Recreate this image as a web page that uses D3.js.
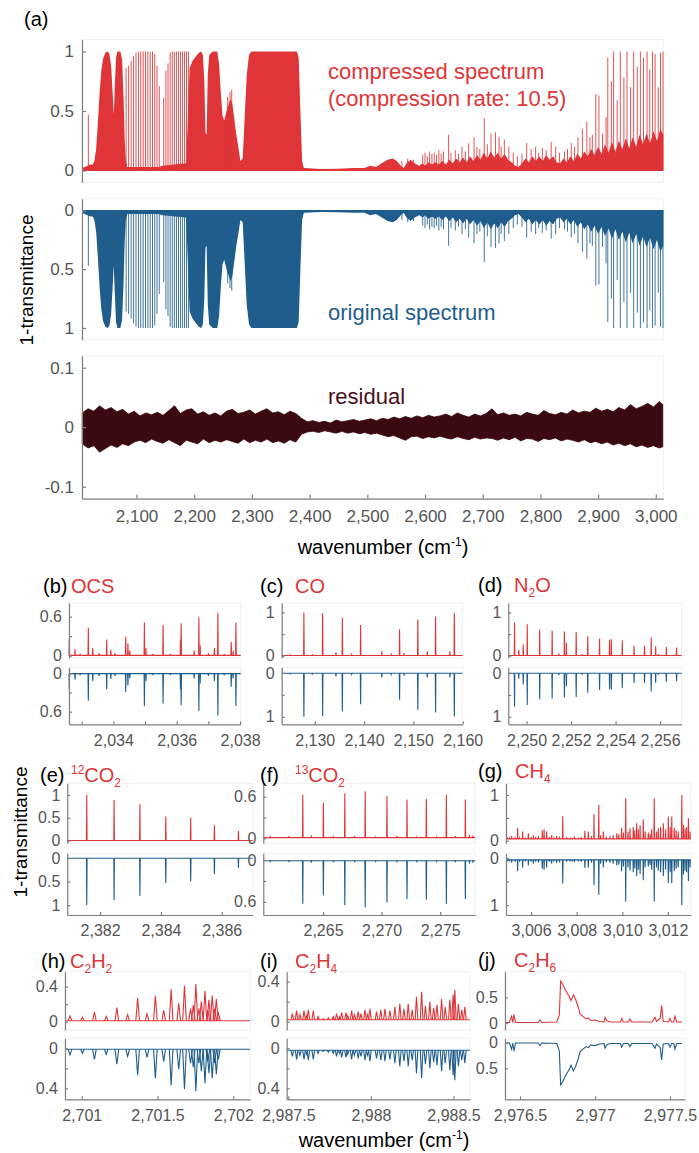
<!DOCTYPE html>
<html>
<head>
<meta charset="utf-8">
<script src="https://cdn.jsdelivr.net/npm/d3@7"></script>
<style>
  body { margin: 0; background: #fff; }
  svg { font-family: "Liberation Sans", Arial, Helvetica, sans-serif; }
</style>
</head>
<body>
<svg id="fig" width="699" height="1153"></svg>
<script>
// ---------- data ----------

// panel (a): top of the saturated / blended absorption, [cm-1, 1-T]
const bandEnvelope = [
  [2005.5,0.02],[2010,0.03],[2015,0.04],[2020,0.05],[2024,0.05],[2027,0.08],[2030,0.18],[2033,0.4],
  [2036,0.65],[2039,0.84],[2042,0.94],[2046,0.99],[2050,1.0],[2053,0.98],[2056,0.88],[2058.5,0.66],
  [2060.5,0.47],[2062.5,0.72],[2064.5,0.95],[2067,1.0],[2072,1.0],[2075,0.93],[2077.5,0.62],[2079.5,0.26],
  [2081.5,0.08],[2084,0.03],[2138,0.03],[2145,0.04],[2186,0.06],[2189,0.45],[2192,0.86],[2197,0.92],
  [2203,0.96],[2208,0.99],[2212,1.0],[2215,0.97],[2217.5,0.75],[2219.5,0.32],[2221.5,0.3],[2223.5,0.8],
  [2226,0.97],[2232,1.0],[2240,1.0],[2243,0.9],[2246,0.66],[2249,0.46],[2252,0.42],[2256,0.5],
  [2260,0.56],[2263,0.6],[2266,0.56],[2269,0.45],[2273,0.3],[2277,0.18],[2280,0.08],[2284,0.1],
  [2287,0.4],[2291,0.8],[2295,0.97],[2299,1.0],[2378,1.0],[2381,0.95],[2384,0.5],[2387,0.08],
  [2390,0.02],[2420,0.012],[2450,0.015],[2475,0.02],[2495,0.02],[2505,0.04],[2515,0.03],[2525,0.06],
  [2535,0.09],[2544,0.1],[2551,0.08],[2558,0.04],[2563,0.02],[2568,0.06],[2575,0.09],[2582,0.06],
  [2590,0.04],[2596,0.06],[2600,0.04],[2606,0.07],[2612,0.05],[2618,0.07],[2624,0.05],[2630,0.08],
  [2636,0.05],[2642,0.09],[2648,0.06],[2654,0.1],[2660,0.07],[2666,0.11],[2672,0.07],[2678,0.12],
  [2684,0.08],[2690,0.13],[2696,0.09],[2702,0.15],[2708,0.1],[2714,0.16],[2720,0.11],[2726,0.15],
  [2732,0.1],[2738,0.14],[2744,0.09],[2750,0.07],[2756,0.04],[2762,0.03],[2768,0.06],[2774,0.1],
  [2780,0.07],[2786,0.12],[2792,0.08],[2798,0.12],[2804,0.08],[2810,0.13],[2816,0.09],[2822,0.12],
  [2828,0.07],[2834,0.06],[2840,0.1],[2846,0.07],[2852,0.12],[2858,0.08],[2864,0.14],[2870,0.1],
  [2876,0.16],[2882,0.12],[2888,0.18],[2894,0.13],[2900,0.2],[2906,0.14],[2912,0.22],[2918,0.15],
  [2924,0.24],[2930,0.16],[2936,0.25],[2942,0.18],[2948,0.27],[2954,0.19],[2960,0.28],[2966,0.2],
  [2972,0.3],[2978,0.22],[2984,0.31],[2990,0.23],[2996,0.33],[3002,0.25],[3008,0.35],[3013,0.3]
];

// panel (a): resolved lines standing above the envelope, [cm-1, 1-T]
const bandLines = [
  [2016.5,0.47],
  [2082.0,0.86],[2086.3,0.88],[2090.7,0.92],[2094.9,0.96],[2099.1,0.99],[2103.3,1],[2107.4,1],[2111.5,1],
  [2115.6,1],[2119.7,1],[2123.7,1],[2127.7,1],[2131.6,0.98],[2135.5,0.88],[2139.4,0.71],
  [2147.1,0.61],[2150.9,0.84],[2154.6,0.9],[2158.3,0.99],[2162.0,1],[2165.6,1],[2169.2,1],[2172.8,1],
  [2176.3,1],[2179.8,1],[2183.2,1],[2186.6,1],[2190.0,1],
  [2258,0.62],[2262,0.66],[2265,0.68],
  [2560,0.08],[2570,0.1],[2580,0.09],
  [2596,0.13],[2600,0.15],[2604,0.12],[2608,0.16],[2612,0.14],[2616,0.15],[2620,0.13],[2624,0.17],
  [2628,0.14],[2632,0.16],[2640.9,0.3],[2645,0.15],[2652.5,0.17],[2658,0.14],[2664.1,0.2],[2670,0.16],
  [2675.7,0.23],[2685.0,0.28],[2690,0.2],[2695,0.18],[2702.7,0.44],[2708,0.22],[2714.4,0.31],[2722.1,0.32],
  [2728.3,0.28],[2732,0.2],[2737.5,0.26],[2745.3,0.2],[2753,0.15],[2760,0.12],[2768,0.14],[2776.2,0.23],
  [2784,0.18],[2791.7,0.2],[2797,0.15],[2803.3,0.19],[2810,0.17],[2818.7,0.24],[2826.5,0.2],[2833,0.15],
  [2841.9,0.16],[2847,0.18],[2853.5,0.23],[2859,0.2],[2865.1,0.28],[2872.8,0.35],[2880.5,0.41],[2885.9,0.28],
  [2890,0.3],[2896.0,0.64],[2901.4,0.63],[2907.6,0.31],[2913.8,0.45],[2916.8,0.95],[2923.0,0.75],[2926.9,1],
  [2933.1,0.59],[2938.5,1],[2944.7,0.78],[2950.1,1],[2956.3,0.7],[2961.7,1],[2967.9,0.87],[2973.3,1],
  [2978.7,0.95],[2984.9,1],[2989.5,0.85],[2994.2,1],[2998.8,0.98],[3004.2,0.7],[3008.1,0.99],[3012.5,1]
];

// panel (a): residual band, [cm-1, upper, lower]
const residualBand = [
  [2006,.024,-.028],[2016,.031,-.035],[2026,.027,-.031],[2036,.036,-.042],[2046,.029,-.036],[2056,.033,-.030],
  [2066,.026,-.034],[2076,.030,-.028],[2086,.022,-.031],[2096,.027,-.025],[2106,.019,-.022],[2116,.024,-.026],
  [2126,.021,-.020],[2136,.025,-.024],[2146,.020,-.027],[2156,.028,-.021],[2166,.036,-.026],[2176,.023,-.031],
  [2186,.029,-.022],[2196,.031,-.025],[2206,.022,-.028],[2216,.026,-.020],[2226,.020,-.026],[2236,.024,-.022],
  [2246,.019,-.025],[2256,.027,-.021],[2266,.030,-.024],[2276,.023,-.027],[2286,.025,-.020],[2296,.029,-.026],
  [2306,.022,-.022],[2316,.027,-.025],[2326,.031,-.020],[2336,.024,-.026],[2346,.026,-.023],[2356,.021,-.027],
  [2366,.027,-.021],[2376,.023,-.025],[2386,.015,-.012],[2396,.009,-.008],[2406,.011,-.007],[2416,.008,-.009],
  [2426,.010,-.006],[2436,.007,-.008],[2446,.012,-.010],[2456,.009,-.007],[2466,.011,-.010],[2476,.013,-.008],
  [2486,.010,-.011],[2496,.012,-.009],[2506,.014,-.012],[2516,.011,-.010],[2526,.015,-.013],[2536,.013,-.016],
  [2546,.017,-.014],[2556,.014,-.018],[2566,.018,-.022],[2576,.015,-.016],[2586,.019,-.015],[2596,.016,-.019],
  [2606,.020,-.016],[2616,.017,-.018],[2626,.019,-.015],[2636,.022,-.018],[2646,.018,-.020],[2656,.024,-.016],
  [2666,.020,-.019],[2676,.017,-.021],[2686,.022,-.017],[2696,.019,-.020],[2706,.023,-.018],[2716,.031,-.019],
  [2726,.021,-.022],[2736,.024,-.018],[2746,.020,-.021],[2756,.022,-.017],[2766,.019,-.023],[2776,.025,-.019],
  [2786,.022,-.020],[2796,.020,-.024],[2806,.028,-.019],[2816,.023,-.021],[2826,.021,-.018],[2836,.025,-.023],
  [2846,.022,-.020],[2856,.029,-.022],[2866,.024,-.025],[2876,.027,-.021],[2886,.025,-.026],[2896,.032,-.024],
  [2906,.027,-.028],[2916,.030,-.025],[2926,.026,-.030],[2936,.033,-.027],[2946,.029,-.031],[2956,.038,-.028],
  [2966,.031,-.033],[2976,.035,-.030],[2986,.040,-.034],[2996,.034,-.031],[3006,.043,-.035],[3012,.038,-.033]
];

const bigYTicks = [0, 0.5, 1];
const residualTicks = [-0.1, 0, 0.1];
const bigXTicks = [2100, 2200, 2300, 2400, 2500, 2600, 2700, 2800, 2900, 3000];

// zoomed panels: line peaks [cm-1, 1-T]
const ocsPeaks = [
  [2032.61,0.26],[2032.79,0.10],[2032.95,0.03],[2033.21,0.43],[2033.35,0.12],[2033.55,0.04],[2033.79,0.25],
  [2033.92,0.09],[2034.05,0.04],[2034.39,0.29],[2034.46,0.19],[2034.52,0.08],[2034.98,0.51],[2035.03,0.12],
  [2035.25,0.03],[2035.57,0.47],[2035.8,0.03],[2036.12,0.25],[2036.14,0.50],[2036.55,0.08],[2036.70,0.59],
  [2036.74,0.16],[2037.0,0.04],[2037.19,0.12],[2037.30,0.66],[2037.50,0.03],[2037.72,0.21],[2037.78,0.08],[2037.87,0.51]
];
const coPeaks = [
  [2125.0,0.02],[2127.8,1.0],[2129.5,0.04],[2131.6,0.98],[2134.3,0.08],[2135.6,0.88],[2137.5,0.03],
  [2139.3,0.71],[2143.6,0.1],[2145.5,0.03],[2147.2,0.61],[2148.1,0.06],[2150.9,0.84],[2152.8,0.1],
  [2154.5,0.9],[2157.4,0.1],[2158.3,0.99]
];
const n2oPeaks = [
  [2249.46,0.77],[2249.65,0.13],[2249.85,0.26],[2250.03,0.73],[2250.59,0.60],[2251.15,0.58],[2251.45,0.05],
  [2251.70,0.56],[2251.79,0.30],[2252.23,0.55],[2252.5,0.04],[2252.75,0.45],[2253.28,0.39],[2253.73,0.37],
  [2253.81,0.38],[2254.30,0.35],[2254.83,0.23],[2255.30,0.23],[2255.60,0.42],[2255.80,0.22],[2255.92,0.04],
  [2256.28,0.20],[2256.74,0.19]
];
const co2_12Peaks = [
  [2381.56,1.0],[2382.46,0.89],[2383.31,0.80],[2384.16,0.53],[2384.98,0.50],[2385.76,0.34],[2386.55,0.21]
];
const co2_13Peaks = [
  [2260.5,0.03],[2262.1,0.03],[2263.27,0.63],[2264.0,0.04],[2265.03,0.51],[2265.9,0.03],[2266.86,0.65],
  [2267.7,0.03],[2268.6,0.68],[2269.5,0.02],[2270.46,0.61],[2271.3,0.03],[2272.17,0.56],[2273.0,0.02],
  [2273.82,0.57],[2274.7,0.02],[2275.53,0.63],[2276.3,0.03],[2277.15,0.56],[2277.5,0.05],[2277.8,0.04]
];
const ch4Peaks = [
  [3004.96,0.07],[3005.05,0.06],[3005.15,0.1],[3005.3,0.08],[3005.41,0.28],[3005.5,0.06],[3005.63,0.2],
  [3005.75,0.07],[3005.88,0.16],[3006.0,0.08],[3006.1,0.12],[3006.2,0.06],[3006.32,0.1],[3006.49,0.23],
  [3006.57,0.25],[3006.68,0.2],[3006.8,0.08],[3006.9,0.12],[3007.0,0.06],[3007.12,0.1],[3007.25,0.09],
  [3007.39,0.54],[3007.56,0.08],[3007.71,0.07],[3007.8,0.07],[3007.9,0.09],[3008.07,0.07],[3008.2,0.08],
  [3008.36,0.21],[3008.51,0.2],[3008.65,0.1],[3008.76,0.58],[3008.97,0.78],[3009.05,0.12],[3009.17,0.2],
  [3009.3,0.09],[3009.46,0.1],[3009.6,0.12],[3009.76,0.16],[3009.85,0.14],[3009.97,0.28],[3010.05,0.18],
  [3010.15,0.93],[3010.25,0.2],[3010.34,0.27],[3010.48,0.3],[3010.55,0.22],[3010.63,0.38],[3010.7,0.25],
  [3010.78,0.34],[3010.92,0.47],[3011.0,0.2],[3011.14,0.18],[3011.22,0.15],[3011.29,0.25],[3011.4,0.93],
  [3011.5,0.2],[3011.58,0.27],[3011.68,0.3],[3011.8,0.38],[3011.9,0.25],[3012.02,0.53],[3012.1,0.3],
  [3012.17,0.53],[3012.28,0.28],[3012.36,0.23],[3012.45,0.2],[3012.61,1.0],[3012.68,0.35],[3012.75,0.27],
  [3012.82,0.3],[3012.9,0.49],[3012.97,0.2]
];
const c2h2Peaks = [
  [2700.923,0.065],[2701.005,0.05],[2701.084,0.11],[2701.162,0.06],[2701.232,0.16],[2701.303,0.08],
  [2701.369,0.27],[2701.431,0.09],[2701.486,0.30],[2701.541,0.13],[2701.59,0.37],[2701.64,0.21],
  [2701.678,0.41],[2701.718,0.15],[2701.736,0.19],[2701.753,0.43],[2701.773,0.15],[2701.789,0.23],
  [2701.813,0.35],[2701.832,0.13],[2701.839,0.25],[2701.861,0.30],[2701.877,0.15],[2701.888,0.26],[2701.901,0.11]
];
const c2h4Peaks = [
  [2987.524,0.08],[2987.55,0.11],[2987.57,0.07],[2987.595,0.11],[2987.61,0.06],[2987.621,0.12],[2987.651,0.11],
  [2987.68,0.05],[2987.711,0.03],[2987.742,0.04],[2987.772,0.05],[2987.792,0.08],[2987.81,0.05],[2987.823,0.09],
  [2987.849,0.09],[2987.86,0.06],[2987.883,0.11],[2987.9,0.07],[2987.923,0.1],[2987.94,0.08],[2987.964,0.12],
  [2987.98,0.07],[2987.994,0.13],[2988.034,0.1],[2988.06,0.12],[2988.085,0.13],[2988.115,0.11],[2988.145,0.15],
  [2988.175,0.18],[2988.2,0.13],[2988.226,0.18],[2988.25,0.12],[2988.276,0.25],[2988.307,0.3],[2988.33,0.16],
  [2988.357,0.2],[2988.38,0.14],[2988.4,0.17],[2988.428,0.23],[2988.45,0.15],[2988.478,0.22],[2988.498,0.27],
  [2988.508,0.32],[2988.53,0.18],[2988.55,0.12],[2988.569,0.15]
];
// C2H6 band is broad, so it is kept as the traced curve itself
const c2h6Trace = [
  [2976.40,0.01],[2976.43,0.01],[2976.444,0.13],[2976.452,0.01],[2976.46,0.17],[2976.47,0.01],[2976.62,0.01],
  [2976.633,0.06],[2976.645,0.01],[2976.745,0.02],[2976.762,0.16],[2976.771,0.82],[2976.785,0.76],[2976.80,0.66],
  [2976.827,0.53],[2976.84,0.44],[2976.856,0.55],[2976.87,0.47],[2976.889,0.31],[2976.90,0.18],[2976.92,0.13],
  [2976.94,0.08],[2976.955,0.1],[2976.97,0.05],[2977.0,0.06],[2977.03,0.03],[2977.06,0.02],[2977.067,0.11],
  [2977.08,0.04],[2977.10,0.02],[2977.17,0.02],[2977.178,0.09],[2977.19,0.02],[2977.22,0.02],[2977.233,0.08],
  [2977.245,0.02],[2977.38,0.02],[2977.40,0.11],[2977.41,0.03],[2977.435,0.1],[2977.444,0.34],[2977.455,0.03],
  [2977.49,0.02],[2977.50,0.09],[2977.51,0.02],[2977.525,0.02],[2977.533,0.13],[2977.545,0.02],[2977.58,0.02]
];

// ---------- drawing ----------
const svg = d3.select('#fig');
const red = '#df3538', blue = '#1f5d8c', maroon = '#3b0912';
const axisGray = '#808080', tickGray = '#555555';

function styleAxis(g, fs) {
  g.attr('font-family', null).attr('font-size', fs);
  g.select('.domain').attr('stroke', axisGray).attr('stroke-width', 1.2);
  g.selectAll('.tick line').attr('stroke', axisGray).attr('stroke-width', 1.2);
  g.selectAll('.tick text').attr('fill', tickGray);
}

function faintBox(x0, x1, y0, y1) {
  svg.append('rect')
    .attr('x', x0).attr('y', Math.min(y0, y1))
    .attr('width', x1 - x0).attr('height', Math.abs(y1 - y0))
    .attr('fill', 'none').attr('stroke', '#efefef');
}

// ---- panel (a) ----
const xBig = d3.scaleLinear().domain([2005.5, 3013]).range([82, 663.3]);
const yComp = d3.scaleLinear().domain([-0.1, 1.1]).range([182.4, 39.6]);
const yOrig = d3.scaleLinear().domain([-0.1, 1.1]).range([198.75, 339.75]);
const yRes = d3.scaleLinear().domain([-0.12, 0.12]).range([498.6, 355.8]);

faintBox(82, 663.3, 39.6, 182.4);
faintBox(82, 663.3, 198.75, 339.75);
faintBox(82, 663.3, 355.8, 498.6);

function drawSpectrum(y, color) {
  const g = svg.append('g');
  g.append('path')
    .datum(bandEnvelope)
    .attr('d', d3.area().x(d => xBig(d[0])).y0(y(0)).y1(d => y(d[1])))
    .attr('fill', color);
  g.append('line')
    .attr('x1', xBig(2005.5)).attr('x2', xBig(3013))
    .attr('y1', y(0)).attr('y2', y(0))
    .attr('stroke', color).attr('stroke-width', 1.2);
  g.selectAll('line.ln').data(bandLines).join('line')
    .attr('class', 'ln')
    .attr('x1', d => xBig(d[0])).attr('x2', d => xBig(d[0]))
    .attr('y1', y(0)).attr('y2', d => y(d[1]))
    .attr('stroke', color).attr('stroke-width', 0.85);
}
drawSpectrum(yComp, red);
drawSpectrum(yOrig, blue);

svg.append('path')
  .datum(residualBand)
  .attr('d', d3.area().x(d => xBig(d[0])).y0(d => yRes(d[2])).y1(d => yRes(d[1])))
  .attr('fill', maroon).attr('stroke', maroon).attr('stroke-width', 0.8);

const fmtY = d => String(d);
[[yComp, bigYTicks], [yOrig, bigYTicks], [yRes, residualTicks]].forEach(([y, t]) => {
  const g = svg.append('g').attr('transform', 'translate(82,0)')
    .call(d3.axisLeft(y).tickValues(t).tickFormat(fmtY).tickSizeInner(-4).tickSizeOuter(0).tickPadding(8));
  styleAxis(g, 17);
});
const gxBig = svg.append('g').attr('transform', `translate(0,${yRes.range()[0]})`)
  .call(d3.axisBottom(xBig).tickValues(bigXTicks).tickFormat(d3.format(','))
    .tickSizeInner(-4).tickSizeOuter(0).tickPadding(11));
styleAxis(gxBig, 17);

// panel (a) texts
svg.append('text').attr('x', 24).attr('y', 26).attr('font-size', 20).text('(a)');
svg.append('text').attr('x', 328).attr('y', 79).attr('font-size', 22).attr('fill', red).text('compressed spectrum');
svg.append('text').attr('x', 328).attr('y', 106).attr('font-size', 22).attr('fill', red).text('(compression rate: 10.5)');
svg.append('text').attr('x', 328).attr('y', 320).attr('font-size', 22).attr('fill', blue).text('original spectrum');
svg.append('text').attr('x', 328).attr('y', 404).attr('font-size', 22).attr('fill', '#4a1020').text('residual');

function yLabel(cx, cy) {
  svg.append('text').attr('transform', `translate(${cx},${cy}) rotate(-90)`)
    .attr('text-anchor', 'middle').attr('dy', '0.35em').attr('font-size', 19)
    .text('1-transmittance');
}
function xLabel(cx, by) {
  const t = svg.append('text').attr('x', cx).attr('y', by).attr('text-anchor', 'middle').attr('font-size', 20);
  t.append('tspan').text('wavenumber (cm');
  t.append('tspan').attr('font-size', 12).attr('dy', -8).text('-1');
  t.append('tspan').attr('dy', 8).text(')');
}
yLabel(26, 280);
xLabel(383, 554);

// ---- zoomed panels ----
const rows = [
  { top: [603, 658], low: [667.3, 724.3] },
  { top: [783.3, 843.3], low: [853.3, 915] },
  { top: [971.7, 1030], low: [1038.3, 1099.3] }
];

const panels = [
  { tag: '(b)', tagX: 43, gasX: 71, titleY: 593, gas: [['OCS']], row: 0,
    xRange: [69, 240.7], xDomain: [2032.6, 2038.02], xTicks: [2033, 2034, 2035, 2036, 2037, 2038], xLabels: [2034, 2036, 2038],
    topDomain: [-0.035, 0.81], lowDomain: [-0.094, 0.797], yTicks: [0, 0.3, 0.6], yLabels: [0, 0.6],
    peaks: ocsPeaks, hw: 0.01, base: 0.005 },
  { tag: '(c)', tagX: 260, gasX: 295, titleY: 593, gas: [['CO']], row: 0,
    xRange: [281.7, 462.7], xDomain: [2123.3, 2160], xTicks: [2130, 2140, 2150, 2160], xLabels: [2130, 2140, 2150, 2160],
    topDomain: [-0.053, 1.22], lowDomain: [-0.13, 1.17], yTicks: [0, 0.5, 1], yLabels: [0, 1],
    peaks: coPeaks, hw: 0.06, base: 0.005 },
  { tag: '(d)', tagX: 478, gasX: 514, titleY: 592, gas: [['N'], ['2', 'sub'], ['O']], row: 0,
    xRange: [508.3, 681.7], xDomain: [2249.18, 2256.97], xTicks: [2250, 2252, 2254, 2256], xLabels: [2250, 2252, 2254, 2256],
    topDomain: [-0.053, 1.22], lowDomain: [-0.13, 1.17], yTicks: [0, 0.5, 1], yLabels: [0, 1],
    peaks: n2oPeaks, hw: 0.012, base: 0.005 },
  { tag: '(e)', tagX: 40, gasX: 71, titleY: 782, gas: [['12', 'sup'], ['CO'], ['2', 'sub']], row: 1,
    xRange: [67.3, 252.7], xDomain: [2380.92, 2387.02], xTicks: [2382, 2384, 2386], xLabels: [2382, 2384, 2386],
    topDomain: [-0.057, 1.256], lowDomain: [-0.1, 1.21], yTicks: [0, 0.5, 1], yLabels: [0, 0.5, 1],
    peaks: co2_12Peaks, hw: 0.01, base: 0.005 },
  { tag: '(f)', tagX: 260, gasX: 295, titleY: 782, gas: [['13', 'sup'], ['CO'], ['2', 'sub']], row: 1,
    xRange: [263.3, 475.3], xDomain: [2259.9, 2278.0], xTicks: [2265, 2270, 2275], xLabels: [2265, 2270, 2275],
    topDomain: [-0.072, 0.794], lowDomain: [-0.096, 0.79], yTicks: [0, 0.3, 0.6], yLabels: [0, 0.6],
    peaks: co2_13Peaks, hw: 0.025, base: 0.01 },
  { tag: '(g)', tagX: 478, gasX: 515, titleY: 778, gas: [['CH'], ['4', 'sub']], row: 1,
    xRange: [506, 690.7], xDomain: [3004.9, 3013.0], xTicks: [3006, 3008, 3010, 3012], xLabels: [3006, 3008, 3010, 3012],
    topDomain: [-0.057, 1.256], lowDomain: [-0.1, 1.21], yTicks: [0, 0.5, 1], yLabels: [0, 1],
    peaks: ch4Peaks, hw: 0.012, base: 0.04 },
  { tag: '(h)', tagX: 41, gasX: 70, titleY: 968, gas: [['C'], ['2', 'sub'], ['H'], ['2', 'sub']], row: 2,
    xRange: [65, 250], xDomain: [2700.89, 2702.11], xTicks: [2701, 2701.5, 2702], xLabels: [2701, 2701.5, 2702],
    topDomain: [-0.095, 0.571], lowDomain: [-0.1, 0.51], yTicks: [0, 0.2, 0.4], yLabels: [0, 0.4],
    peaks: c2h2Peaks, hw: 0.012, base: 0.01 },
  { tag: '(i)', tagX: 260, gasX: 295, titleY: 968, gas: [['C'], ['2', 'sub'], ['H'], ['4', 'sub']], row: 2,
    xRange: [286.7, 470], xDomain: [2987.49, 2988.6], xTicks: [2987.5, 2988, 2988.5], xLabels: [2987.5, 2988, 2988.5],
    topDomain: [-0.083, 0.5], lowDomain: [-0.1, 0.51], yTicks: [0, 0.2, 0.4], yLabels: [0, 0.4],
    peaks: c2h4Peaks, hw: 0.008, base: 0.02 },
  { tag: '(j)', tagX: 478, gasX: 514, titleY: 967, gas: [['C'], ['2', 'sub'], ['H'], ['6', 'sub']], row: 2,
    xRange: [505, 685], xDomain: [2976.4, 2977.6], xTicks: [2976.5, 2977, 2977.5], xLabels: [2976.5, 2977, 2977.5],
    topDomain: [-0.137, 1.006], lowDomain: [-0.081, 1.1], yTicks: [0, 0.5], yLabels: [0, 0.5],
    trace: c2h6Trace }
];

function drawTrace(x, y, p, color) {
  const line = d3.line().x(d => x(d[0])).y(d => y(d[1]));
  const g = svg.append('g').attr('fill', 'none').attr('stroke', color).attr('stroke-width', 1.1);
  if (p.trace) {
    g.append('path').datum(p.trace).attr('d', line);
    return;
  }
  g.append('path').datum([[p.xDomain[0], p.base], [p.xDomain[1], p.base]]).attr('d', line);
  g.selectAll('path.pk').data(p.peaks).join('path')
    .attr('class', 'pk')
    .attr('d', d => line([[d[0] - p.hw, p.base], [d[0], d[1]], [d[0] + p.hw, p.base]]));
}

panels.forEach(p => {
  const r = rows[p.row];
  const x = d3.scaleLinear().domain(p.xDomain).range(p.xRange);
  const yTop = d3.scaleLinear().domain(p.topDomain).range([r.top[1], r.top[0]]);
  const yLow = d3.scaleLinear().domain(p.lowDomain).range([r.low[0], r.low[1]]);

  faintBox(p.xRange[0], p.xRange[1], r.top[0], r.top[1]);
  faintBox(p.xRange[0], p.xRange[1], r.low[0], r.low[1]);

  drawTrace(x, yTop, p, red);
  drawTrace(x, yLow, p, blue);

  const fmt = d => p.yLabels.includes(d) ? String(d) : '';
  [yTop, yLow].forEach(y => {
    const g = svg.append('g').attr('transform', `translate(${p.xRange[0]},0)`)
      .call(d3.axisLeft(y).tickValues(p.yTicks).tickFormat(fmt).tickSizeInner(-3).tickSizeOuter(0).tickPadding(7));
    styleAxis(g, 16);
  });
  const gx = svg.append('g').attr('transform', `translate(0,${r.low[1]})`)
    .call(d3.axisBottom(x).tickValues(p.xTicks)
      .tickFormat(d => p.xLabels.includes(d) ? d3.format(',')(d) : '')
      .tickSizeInner(-3).tickSizeOuter(0).tickPadding(10));
  styleAxis(gx, 16);

  svg.append('text').attr('x', p.tagX).attr('y', p.titleY).attr('font-size', 20).text(p.tag);
  const t = svg.append('text').attr('x', p.gasX).attr('y', p.titleY).attr('font-size', 20).attr('fill', red);
  p.gas.forEach(([s, kind]) => {
    const ts = t.append('tspan').text(s);
    if (kind === 'sub') ts.attr('font-size', 12).attr('y', p.titleY + 5);
    else if (kind === 'sup') ts.attr('font-size', 12).attr('y', p.titleY - 8);
    else ts.attr('y', p.titleY);
  });
});

yLabel(20, 832);
xLabel(384, 1147);
</script>
</body>
</html>
